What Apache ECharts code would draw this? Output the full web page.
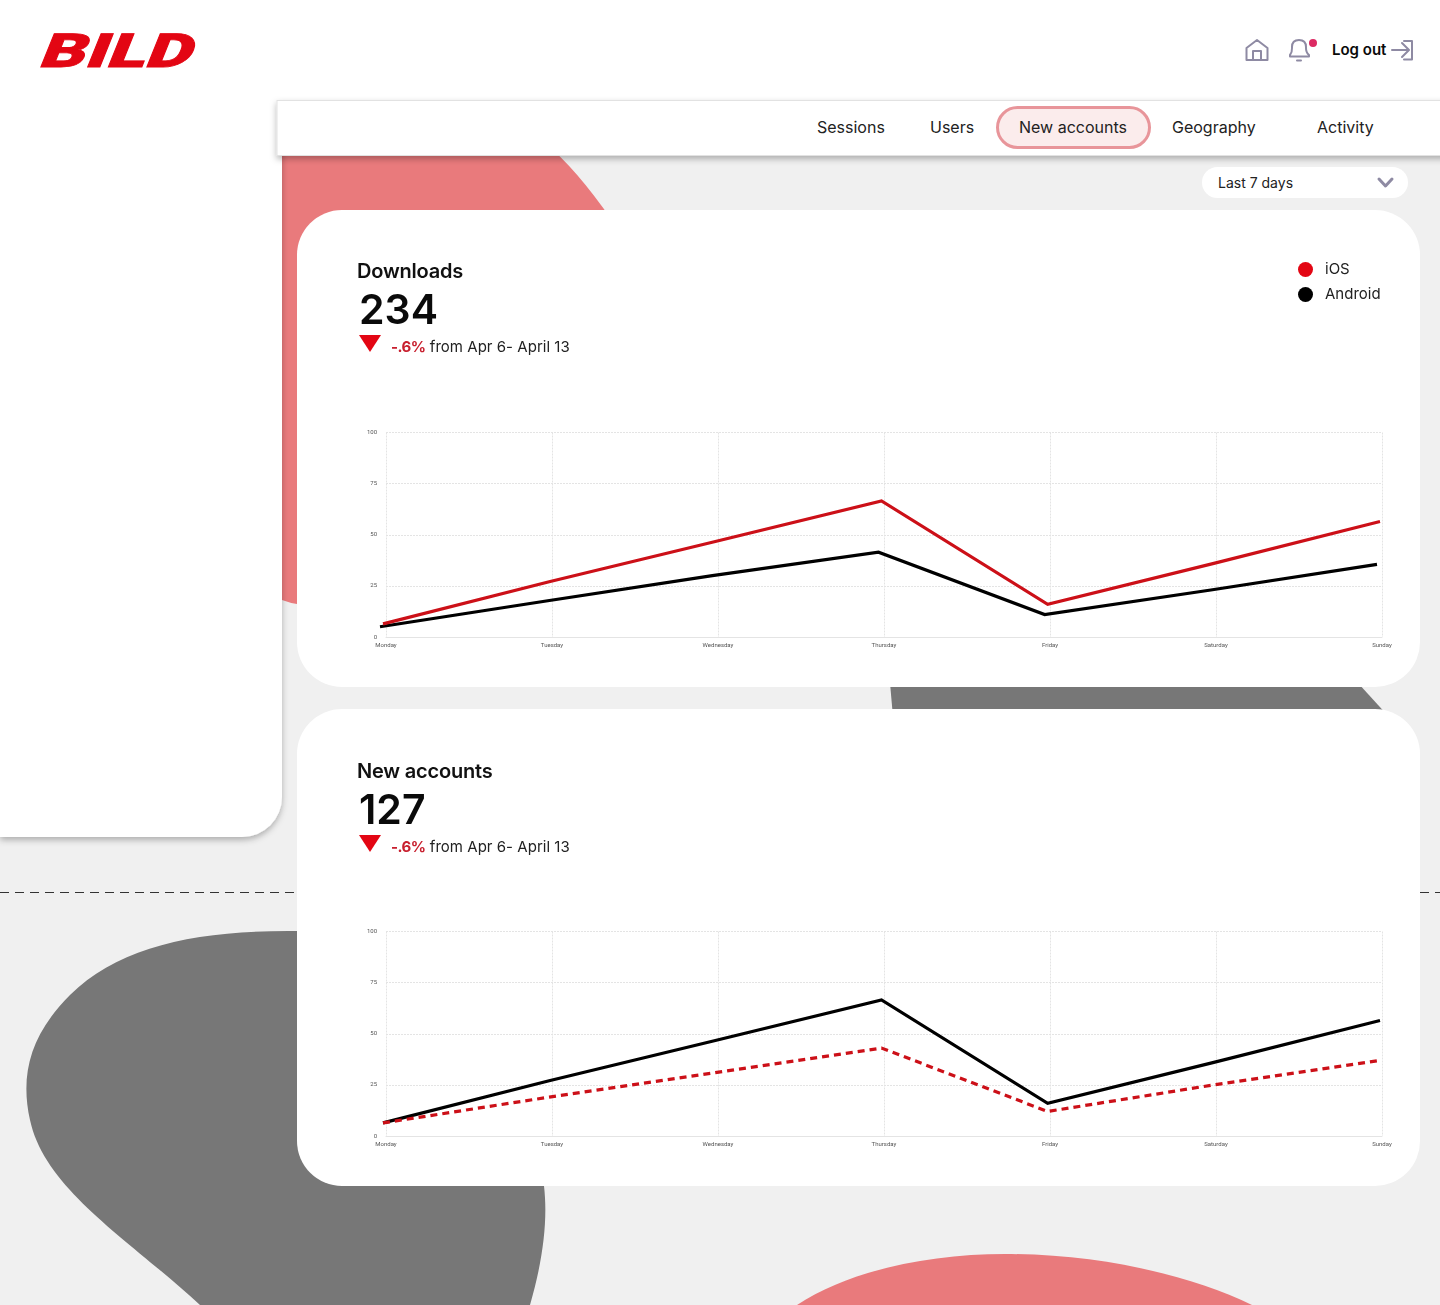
<!DOCTYPE html>
<html><head><meta charset="utf-8">
<script src="https://cdn.jsdelivr.net/npm/echarts@6/dist/echarts.min.js"></script>
<style>
html,body{margin:0;padding:0;background:#f0f0f0;width:1440px;height:1305px;overflow:hidden;font-family:Inter,"Noto Sans",sans-serif;color:#111}
.abs{position:absolute;white-space:nowrap}
#bg{position:absolute;left:0;top:0}
.card{position:absolute;left:297px;width:1123px;height:477px;background:#fff;border-radius:45px}
.chart{position:absolute;left:0;top:0;width:1123px;height:477px}
.nav{font-size:16px;top:118px;line-height:19px;color:#222}
.title{left:60px;top:49px;font-size:20px;font-weight:600;line-height:24px;color:#111;letter-spacing:-.2px}
.big{left:62px;top:75px;font-size:41px;font-weight:600;line-height:48px;color:#0a0a0a}
.delta{left:94px;top:127px;font-size:15px;line-height:19px;color:#222;letter-spacing:.03px}
.delta b{color:#c8202f;font-weight:700;letter-spacing:-.5px}
.tri{position:absolute;left:62px;top:125px}
.second{top:1px;position:absolute;left:0;width:100%;height:0}
</style></head><body>
<svg id="bg" width="1440" height="1305" viewBox="0 0 1440 1305">
<defs><filter id="sh" x="-10%" y="-10%" width="120%" height="130%"><feDropShadow dx="0" dy="3" stdDeviation="3" flood-color="#000" flood-opacity=".28"/></filter></defs>
<path d="M282 150H553Q584 178 622 235L600 650L297 604Q290 603 282 600Z" fill="#e97a7c"/>
<path d="M888 660L895 740H1410L1337 660Z" fill="#777"/>
<path d="M297 931C200 930 120 945 70 995C30 1035 20 1075 30 1120C45 1190 130 1240 200 1305H530C543 1260 548 1220 544 1186V1100L297 1000Z" fill="#777"/>
<path d="M797 1305C850 1270 930 1254 1005 1254C1100 1254 1190 1275 1252 1305Z" fill="#e97a7c"/>
<path d="M0 892.5H297M1420 892.5H1440" stroke="#333" stroke-width="1" stroke-dasharray="9 6"/>
<rect x="0" y="0" width="1440" height="100" fill="#fff"/>
<path d="M0 0H282V797A40 40 0 0 1 242 837H0Z" fill="#fff" filter="url(#sh)"/>
<rect x="0" y="0" width="1440" height="100" fill="#fff"/>
<rect x="277" y="100.5" width="1170" height="55" fill="#fff" stroke="#e2e2e2" stroke-width="1" filter="url(#sh)"/>
<text transform="translate(37 67) skewX(-22)" font-family="Roboto" font-weight="900" font-size="47" fill="#e30613" stroke="#e30613" stroke-width=".8" textLength="152" lengthAdjust="spacingAndGlyphs">BILD</text>
<rect x="997.500" y="107.500" width="152" height="40" rx="20" fill="#fbecec" stroke="#e8959a" stroke-width="3"/>
<rect x="1202" y="167" width="206" height="31" rx="15.500" fill="#fff"/>
<g fill="none" stroke="#8e8aa3" stroke-width="2" stroke-linejoin="round" stroke-linecap="round">
<path d="M1246.500 48L1257 40L1267.500 48V60H1246.500ZM1253 60V51H1261V60"/>
<path d="M1290 55C1292.500 52 1292 49 1292 47C1292 42 1295 40 1299 40C1303 40 1306 42 1306 47C1306 49 1305.500 52 1309 55V56.500H1290ZM1297 60.500H1301"/>
<path d="M1392 50H1408M1402 43L1409 50L1402 57M1404 41H1412V59.500H1404"/>
<path d="M1379 179L1385.500 186L1392 179" stroke-width="3"/>
</g>
<circle cx="1313" cy="43" r="4" fill="#dc2a63"/>
</svg>
<div class="abs" style="left:1332px;top:41px;font-size:15px;font-weight:600;line-height:18px;color:#0a0a0a">Log out</div>
<div class="abs nav" style="left:817px">Sessions</div>
<div class="abs nav" style="left:930px">Users</div>
<div class="abs nav" style="left:1019px">New accounts</div>
<div class="abs nav" style="left:1172px">Geography</div>
<div class="abs nav" style="left:1317px">Activity</div>
<div class="abs" style="left:1218px;top:174px;font-size:14px;line-height:17px;color:#222">Last 7 days</div>

<div class="card" style="top:210px">
  <div id="c1" class="chart"></div>
  <div class="abs title">Downloads</div>
  <div class="abs big">234</div>
  <svg class="tri" width="22" height="18"><path d="M0 0H22L11 17Z" fill="#e30613"/></svg>
  <div class="abs delta"><b>-.6%</b> from Apr 6- April 13</div>
</div>
<div class="card" style="top:709px">
  <div id="c2" class="chart"></div>
  <div class="second">
  <div class="abs title">New accounts</div>
  <div class="abs big">127</div>
  <svg class="tri" width="22" height="18"><path d="M0 0H22L11 17Z" fill="#e30613"/></svg>
  <div class="abs delta"><b>-.6%</b> from Apr 6- April 13</div>
  </div>
</div>

<script>
const categories = ['Monday','Tuesday','Wednesday','Thursday','Friday','Saturday','Sunday'];
const downloadsIos = [6.4, 27, 46.7, 66.5, 16, 36, 56.5];
const downloadsAndroid = [5, 17.6, 30, 41.5, 11, 23, 35.5];
const accountsAndroid = [6.4, 27, 46.7, 66.5, 16, 36, 56.5];
const accountsIos = [6.4, 19, 31, 43, 12, 25, 37];
const RED = '#e30613', LINE_RED = '#cc1018', BLACK = '#000';
const gridStyle = {color:'#e4e4e4', width:1, type:[2,1]};
const labelFont = 'Roboto';

function build(el, series, withLegend){
  const chart = echarts.init(el, null, {renderer:'canvas'});
  const grids = [
    {left:89, top:222.5, width:996, height:204.5},
    {left:86, top:222.5, width:997, height:204.5},
    {left:83, top:222.5, width:997, height:204.5}
  ];
  const hiddenX = i => ({type:'category', gridIndex:i, data:categories, boundaryGap:false, show:false});
  const hiddenY = i => ({type:'value', gridIndex:i, min:0, max:100, interval:25, show:false});
  chart.setOption({
    animation:false,
    legend: withLegend ? {
      show:true, orient:'vertical', left:1001, top:52, icon:'circle',
      itemWidth:15, itemHeight:15, itemGap:10, padding:0,
      textStyle:{fontFamily:'Inter', fontSize:15, color:'#222', padding:[0,0,0,7]},
      data:['iOS','Android']
    } : {show:false},
    grid:grids,
    xAxis:[{
      type:'category', gridIndex:0, data:categories, boundaryGap:false,
      axisLine:{lineStyle:{color:'#e4e4e4', width:1}},
      axisTick:{show:false},
      axisLabel:{fontFamily:labelFont, fontSize:6, color:'#555', margin:5, hideOverlap:false, showMinLabel:true, showMaxLabel:true},
      splitLine:{show:true, lineStyle:gridStyle}
    }, hiddenX(1), hiddenX(2)],
    yAxis:[{
      type:'value', gridIndex:0, min:0, max:100, interval:25,
      axisLine:{show:false}, axisTick:{show:false},
      axisLabel:{fontFamily:labelFont, fontSize:6, color:'#555', margin:9, padding:[3,0,0,0]},
      splitLine:{show:true, lineStyle:gridStyle}
    }, hiddenY(1), hiddenY(2)],
    series:series.map(s => ({
      name:s.name, type:'line', data:s.data, xAxisIndex:s.g, yAxisIndex:s.g, z:s.z,
      symbol:'none', smooth:false,
      itemStyle:{color:s.legend},
      lineStyle:{color:s.color, width:3.2, type:s.dash ? [7,5] : 'solid', cap:'butt', join:'miter'}
    }))
  });
}
build(document.getElementById('c1'), [
  {name:'Android', data:downloadsAndroid, g:2, color:BLACK, legend:BLACK, z:2},
  {name:'iOS', data:downloadsIos, g:1, color:LINE_RED, legend:RED, z:3}
], true);
build(document.getElementById('c2'), [
  {name:'Android', data:accountsAndroid, g:1, color:BLACK, legend:BLACK, z:2},
  {name:'iOS', data:accountsIos, g:1, color:LINE_RED, legend:RED, z:3, dash:true}
], false);
</script>
</body></html>
